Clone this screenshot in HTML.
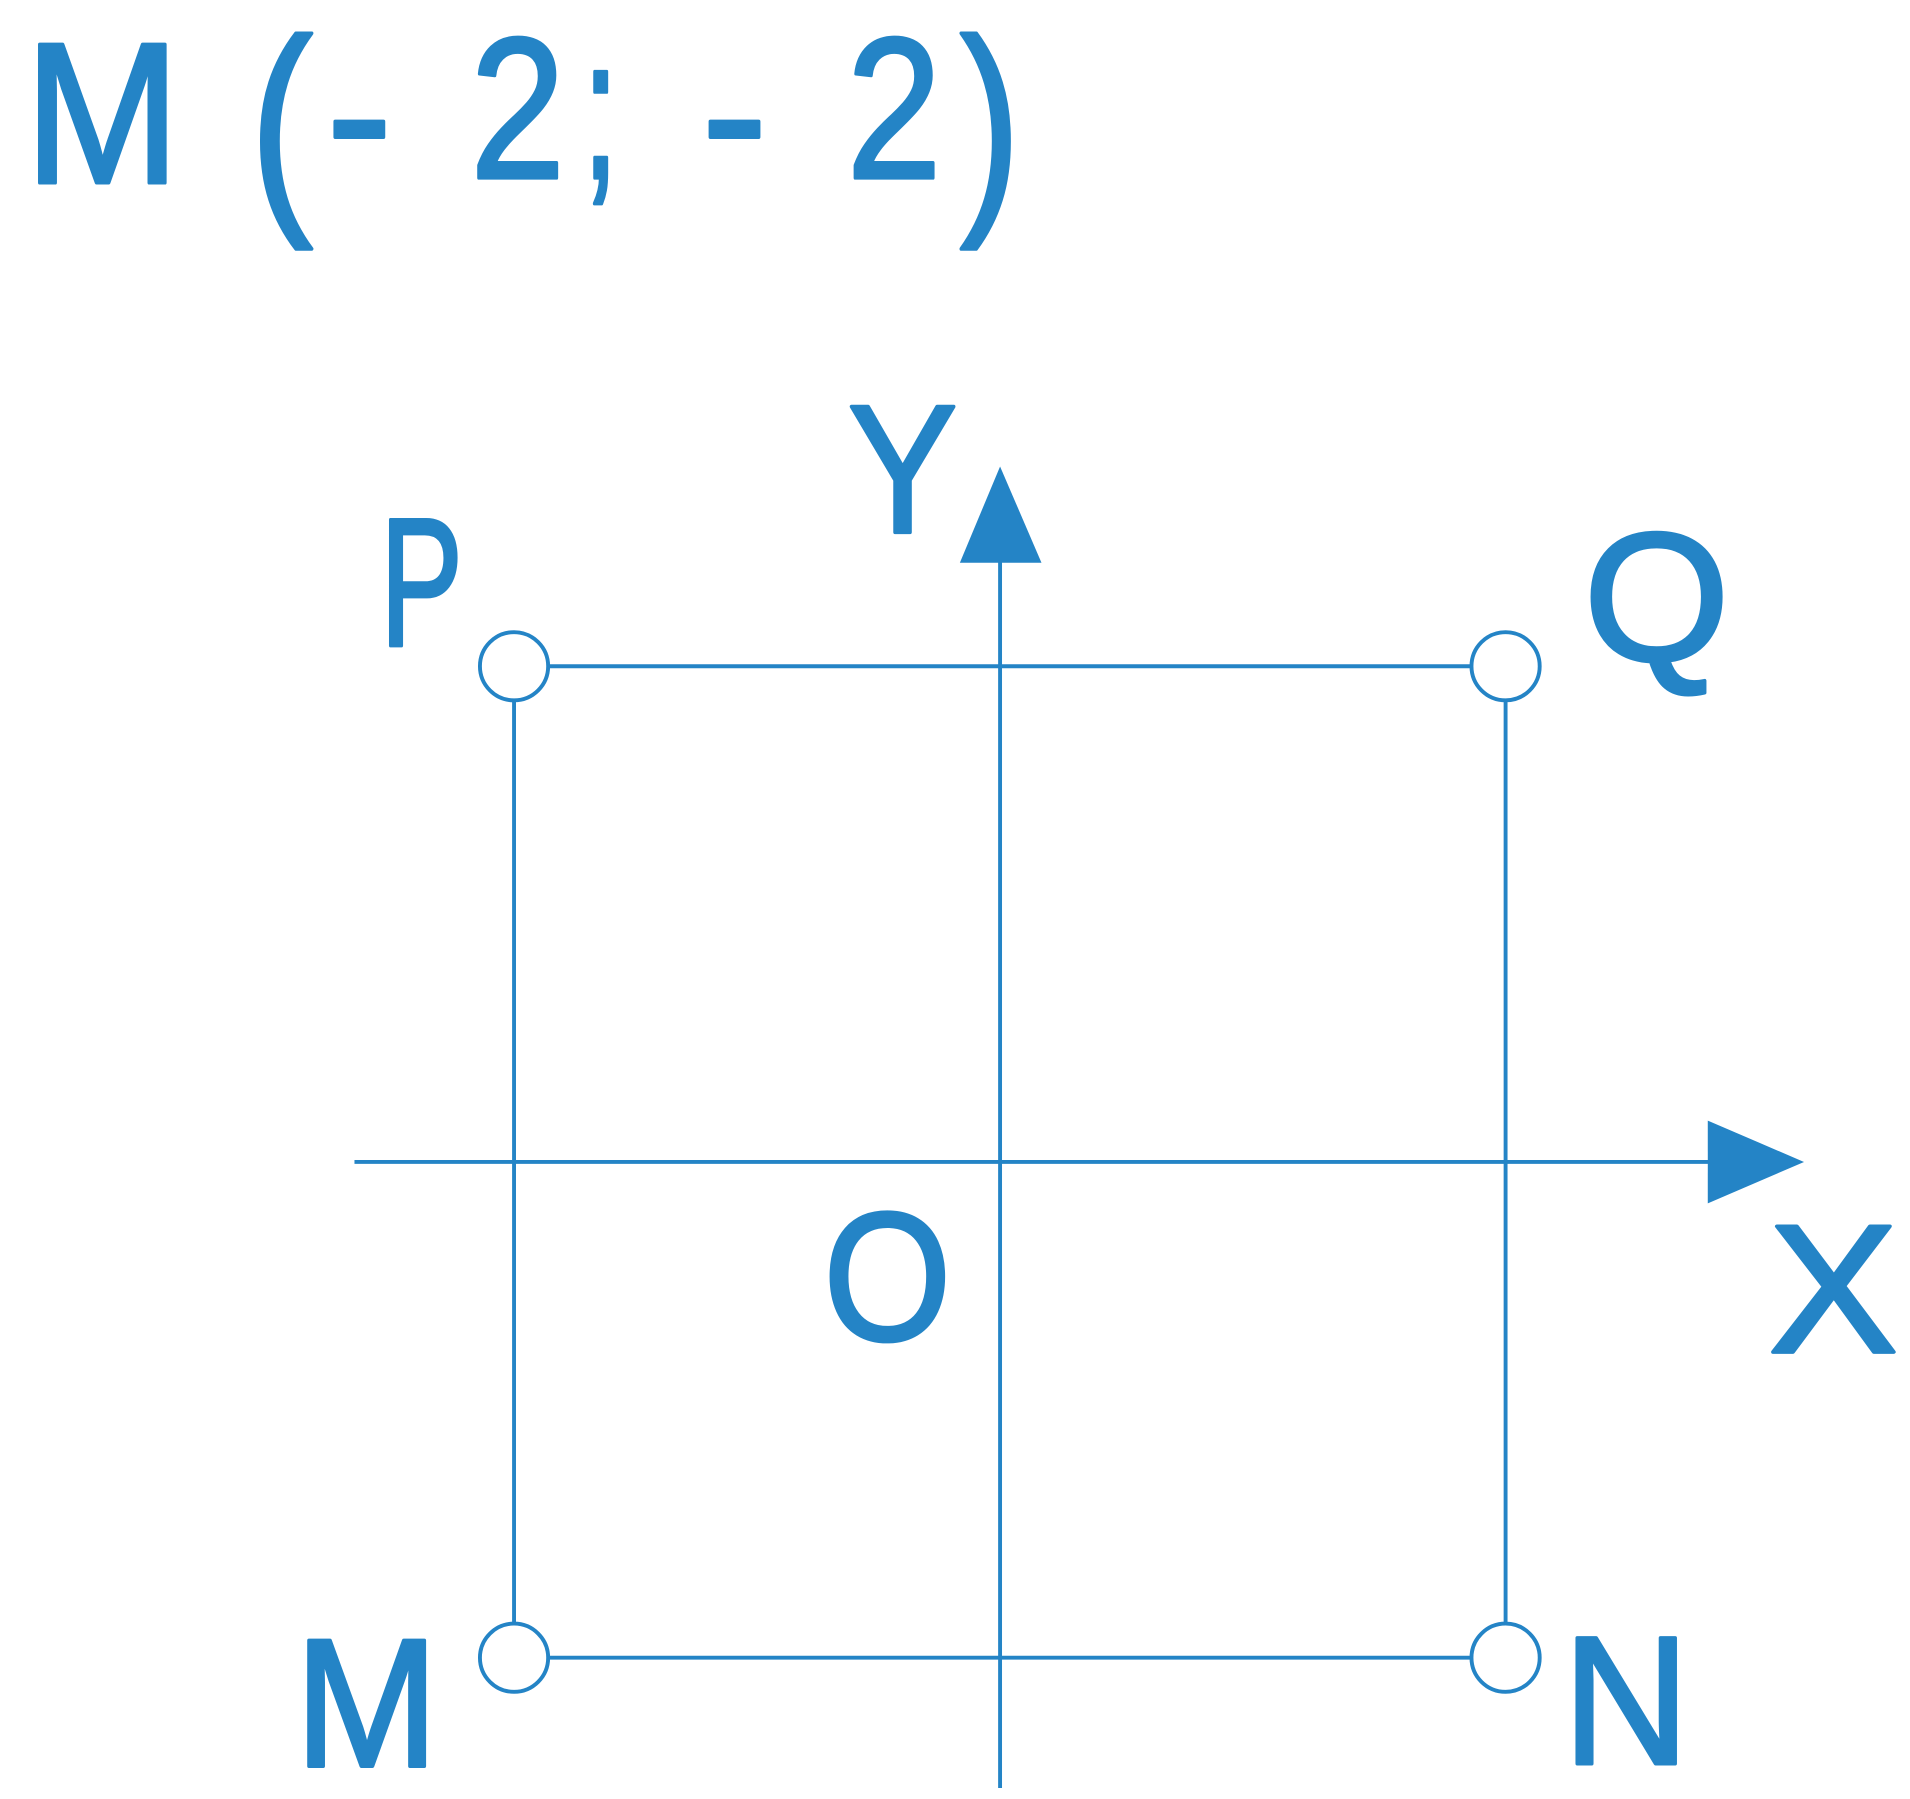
<!DOCTYPE html>
<html><head><meta charset="utf-8"><style>
html,body{margin:0;padding:0;background:#fff;}
svg{display:block;}
text{font-family:"Liberation Sans",sans-serif;fill:#2484c6;stroke:#2484c6;stroke-width:3;stroke-linejoin:round;}
</style></head><body>
<svg width="1910" height="1799" viewBox="0 0 1568 1477" preserveAspectRatio="none" xmlns="http://www.w3.org/2000/svg">
<g stroke="#2484c6" stroke-width="3.2" fill="none">
<line x1="821" y1="455" x2="821" y2="1468"/>
<line x1="291" y1="954" x2="1408" y2="954"/>
<line x1="450" y1="547" x2="1208" y2="547"/>
<line x1="450" y1="1361" x2="1208" y2="1361"/>
<line x1="422" y1="575" x2="422" y2="1333"/>
<line x1="1236" y1="575" x2="1236" y2="1333"/>
<circle cx="422" cy="547" r="28" fill="#fff"/>
<circle cx="1236" cy="547" r="28" fill="#fff"/>
<circle cx="422" cy="1361" r="28" fill="#fff"/>
<circle cx="1236" cy="1361" r="28" fill="#fff"/>
</g>
<polygon points="821,383 788,462 855,462" fill="#2484c6"/>
<polygon points="1481,954 1402,920 1402,988" fill="#2484c6"/>
<g font-size="165">
<text x="20" y="150" textLength="128" lengthAdjust="spacingAndGlyphs">M</text>
<text x="205" y="165" font-size="190" textLength="52" lengthAdjust="spacingAndGlyphs">(</text>
<text x="268" y="150" textLength="54" lengthAdjust="spacingAndGlyphs">-</text>
<text x="386" y="146" textLength="78" lengthAdjust="spacingAndGlyphs">2</text>
<text x="478" y="146" textLength="30" lengthAdjust="spacingAndGlyphs">;</text>
<text x="576" y="150" textLength="54" lengthAdjust="spacingAndGlyphs">-</text>
<text x="695" y="146" textLength="78" lengthAdjust="spacingAndGlyphs">2</text>
<text x="788" y="165" font-size="190" textLength="50" lengthAdjust="spacingAndGlyphs">)</text>
</g>
<g font-size="150">
<text x="312" y="530" textLength="68" lengthAdjust="spacingAndGlyphs">P</text>
<text x="1300" y="542" textLength="120" lengthAdjust="spacingAndGlyphs">Q</text>
<text x="696" y="437" textLength="90" lengthAdjust="spacingAndGlyphs">Y</text>
<text x="676" y="1100" textLength="105" lengthAdjust="spacingAndGlyphs">O</text>
<text x="1452" y="1110" textLength="106" lengthAdjust="spacingAndGlyphs">X</text>
<text x="242" y="1450" textLength="118" lengthAdjust="spacingAndGlyphs">M</text>
<text x="1283" y="1448" textLength="104" lengthAdjust="spacingAndGlyphs">N</text>
</g>
</svg>
</body></html>
